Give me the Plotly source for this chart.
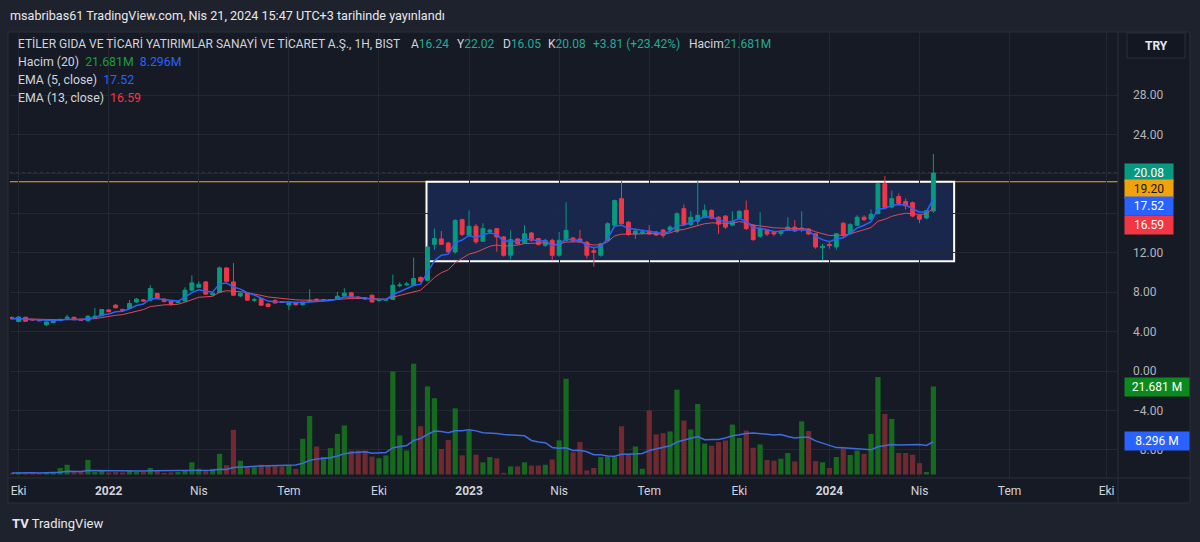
import pandas as pd
import plotly.graph_objects as go

# ---------------- data ----------------
start_date = "2021-09-27"
n_bars = 134

opens = [5.42,5.02,5.45,5.22,5.20,4.68,4.92,5.12,5.35,5.45,
         5.25,5.10,5.45,5.60,6.20,6.68,6.25,6.35,7.00,7.22,
         7.19,7.86,7.30,7.10,6.95,7.10,8.20,8.50,9.04,7.72,
         7.96,10.46,9.04,7.62,7.93,7.18,7.36,6.80,7.15,7.05,
         6.70,6.90,6.72,7.05,7.28,7.15,7.20,7.26,7.60,7.93,
         7.50,7.42,7.69,7.15,7.18,7.26,8.65,8.75,8.70,9.48,
         9.20,12.85,13.40,12.99,12.08,15.35,13.77,14.68,13.16,14.10,
         14.44,13.60,11.74,13.40,13.00,14.00,13.43,12.75,13.26,11.74,
         13.26,13.50,13.40,13.06,12.20,11.74,13.26,14.78,17.48,15.10,
         13.90,14.00,14.20,14.10,14.30,14.30,14.17,16.47,14.85,15.20,
         15.60,16.30,15.60,15.72,14.80,15.50,16.30,14.78,13.67,14.30,
         14.10,13.95,14.30,14.60,14.30,14.40,13.93,12.50,12.85,12.58,
         15.00,13.93,14.78,15.60,15.40,15.96,19.00,16.63,17.70,17.20,
         17.07,15.80,15.52,16.24]
closes = [5.30,5.48,5.05,5.18,5.10,4.98,5.10,5.24,5.45,5.20,
          5.15,5.56,5.55,6.24,6.02,6.42,6.15,6.85,7.29,7.10,
          8.37,7.36,7.05,6.85,7.05,8.20,8.94,8.80,7.80,7.90,
          10.46,9.10,7.69,7.90,7.19,7.24,6.68,6.55,6.90,6.95,
          7.00,6.72,7.00,7.15,7.20,7.24,7.22,7.59,7.90,7.52,
          7.35,7.32,7.00,7.20,7.25,8.70,8.72,8.82,9.38,9.10,
          12.58,13.43,12.85,12.08,15.28,13.86,14.68,13.10,14.44,14.30,
          13.60,11.74,13.33,12.92,13.93,13.26,12.85,13.26,11.74,13.26,
          14.27,13.20,13.10,11.74,12.05,12.90,14.94,17.30,14.94,13.86,
          14.20,14.10,13.90,13.80,13.76,14.60,15.96,14.85,15.60,15.80,
          16.30,15.50,14.90,14.60,15.20,16.20,14.44,13.33,14.40,13.90,
          13.90,14.20,14.60,14.20,14.50,13.90,12.58,12.65,12.72,13.93,
          13.76,14.85,15.60,15.35,15.90,19.00,16.60,17.48,17.00,16.75,
          15.72,15.40,16.27,20.08]
highs = [5.55,5.55,5.50,5.30,5.25,5.05,5.15,5.30,5.70,5.50,
         5.30,5.65,6.40,6.30,6.25,6.80,6.30,7.20,7.40,7.30,
         8.70,7.95,7.35,7.15,7.10,8.50,9.70,9.10,9.10,7.95,
         10.60,10.50,10.96,8.00,8.00,7.45,7.40,6.85,7.30,7.10,
         7.05,6.95,7.05,8.30,7.35,7.30,7.30,8.03,8.40,8.00,
         7.60,7.50,7.75,7.25,7.30,9.79,9.00,9.05,11.50,9.60,
         12.70,14.45,14.20,13.10,15.40,15.45,16.30,14.90,15.00,14.40,
         14.50,13.70,14.27,13.50,14.78,14.10,13.50,13.40,13.40,14.10,
         17.13,13.60,14.30,13.20,12.60,13.00,15.10,17.40,19.33,15.20,
         14.30,14.30,14.80,14.20,14.40,14.80,16.10,16.90,16.20,19.33,
         16.90,16.40,15.70,15.80,16.20,16.30,17.30,14.90,16.10,14.40,
         14.20,14.30,15.60,15.30,16.20,14.50,14.00,12.90,13.20,14.00,
         15.10,15.00,15.80,15.80,16.40,19.10,19.77,18.30,18.00,17.50,
         17.20,15.90,16.30,22.02]
lows = [5.25,4.95,5.00,5.12,5.05,4.55,4.85,5.05,5.30,5.15,
        5.10,5.05,5.40,5.55,5.95,6.35,6.10,6.30,6.90,7.00,
        7.10,7.30,6.95,6.60,6.90,7.05,8.10,8.45,7.75,7.65,
        7.90,9.05,7.60,7.50,7.15,7.00,6.60,6.50,6.85,6.90,
        6.20,6.65,6.65,7.00,7.10,7.10,7.12,7.20,7.55,7.45,
        7.30,7.25,6.95,7.05,7.10,7.20,8.50,8.60,8.65,9.00,
        9.10,12.30,12.80,11.90,11.90,13.70,13.60,12.90,13.10,13.90,
        12.10,11.60,11.30,12.80,12.90,13.10,12.70,12.60,11.23,11.60,
        13.10,13.10,13.00,11.40,10.60,11.60,13.10,14.60,14.85,13.70,
        13.40,13.85,13.80,13.70,13.50,14.20,14.00,14.80,14.70,14.70,
        15.50,15.40,13.90,14.40,14.70,15.30,14.30,13.20,13.50,13.70,
        13.70,13.70,14.20,14.10,14.10,13.80,12.40,11.23,12.40,12.30,
        13.50,13.80,14.70,15.20,15.30,15.90,16.50,16.50,16.90,16.40,
        15.60,15.00,15.40,16.05]
volumes_m = [0.4,0.5,0.4,0.4,0.3,0.4,0.6,1.6,2.4,0.6,
             0.6,3.6,0.6,0.9,0.5,0.6,0.5,1.0,0.6,0.6,
             1.6,1.0,0.4,0.5,0.6,0.9,3.0,1.4,0.9,1.4,
             5.1,2.3,11.0,3.4,2.0,1.8,2.4,2.3,2.3,2.0,
             2.3,1.4,8.8,14.4,6.9,4.3,6.5,10.0,12.1,5.9,
             5.9,5.9,4.4,4.0,4.7,25.4,9.6,5.9,27.3,11.9,
             21.7,18.8,6.3,8.5,16.3,4.7,10.8,4.9,3.0,4.3,
             4.0,0.4,2.0,2.0,3.0,2.2,2.2,2.4,3.7,8.4,
             23.6,5.5,8.0,1.0,1.6,4.3,4.4,4.4,11.9,5.1,
             6.9,1.4,15.8,9.9,10.2,10.6,20.9,13.3,11.1,17.4,
             7.6,7.1,8.0,8.4,12.3,9.0,10.8,6.6,7.4,3.6,
             3.4,3.9,5.3,3.2,13.1,10.7,3.3,3.0,1.6,4.3,
             6.5,4.8,5.9,5.1,10.0,24.0,14.9,13.7,5.3,5.3,
             4.9,2.8,0.6,21.681]

tick_dates = ["2021-10-04", "2022-01-03", "2022-04-04", "2022-07-04", "2022-10-03",
              "2023-01-02", "2023-04-03", "2023-07-03", "2023-10-02", "2024-01-01",
              "2024-04-01", "2024-07-01", "2024-10-07"]
tick_labels = ["Eki", "<b>2022</b>", "Nis", "Tem", "Eki", "<b>2023</b>", "Nis", "Tem",
               "Eki", "<b>2024</b>", "Nis", "Tem", "Eki"]
price_ticks = [-8, -4, 0, 4, 8, 12, 16, 20, 24, 28]
hidden_price_labels = [16, 20]     # covered by the price badges in the reference

level_line = 19.20          # horizontal drawing
box_start, box_end = "2022-11-20", "2024-05-06"
box_low, box_high = 11.13, 19.20

dates = pd.date_range(start_date, periods=n_bars, freq="7D")
close_s = pd.Series(closes)
ema5 = close_s.ewm(span=5, adjust=False).mean()
ema13 = close_s.ewm(span=13, adjust=False).mean()
vol_ma = pd.Series(volumes_m).rolling(20, min_periods=1).mean()

# ---------------- styling ----------------
W, H = 1200, 542
PL, PR, PT, PB = 10, 1118, 32, 478          # plot area in pixels
OUTER = "#1e222d"
INNER = "#161a25"
GRID = "#242833"
TXT = "#d1d4dc"
UP, DOWN = "#089981", "#f23645"
VUP, VDOWN = "#166a20", "#6e2a30"
FONT = "Roboto"

def px(x):
    return (x - PL) / (PR - PL)

def py(y):
    return (PB - y) / (PB - PT)

fig = go.Figure()

fig.add_trace(go.Bar(
    x=dates, y=volumes_m, yaxis="y2",
    marker=dict(color=[VUP if c >= o else VDOWN for o, c in zip(opens, closes)], line=dict(width=0)),
    hoverinfo="skip"))
fig.add_trace(go.Scatter(x=dates, y=vol_ma, yaxis="y2", mode="lines",
                         line=dict(color="#3d6be0", width=1.5), hoverinfo="skip"))
fig.add_trace(go.Candlestick(
    x=dates, open=opens, high=highs, low=lows, close=closes,
    increasing=dict(line=dict(color=UP, width=1), fillcolor=UP),
    decreasing=dict(line=dict(color=DOWN, width=1), fillcolor=DOWN),
    whiskerwidth=0, hoverinfo="skip"))
fig.add_trace(go.Scatter(x=dates, y=ema13, mode="lines",
                         line=dict(color="#e0485a", width=1), hoverinfo="skip"))
fig.add_trace(go.Scatter(x=dates, y=ema5, mode="lines",
                         line=dict(color="#2962ff", width=1.5), hoverinfo="skip"))

y_lo = -(PB - 371) / 9.857
y_hi = (371 - PT) / 9.857
v_per_px = 21.681 / (474.5 - 386.5)
v_lo = -(PB - 474.5) * v_per_px
v_hi = (474.5 - PT) * v_per_px

shapes = [
    dict(type="rect", xref="paper", yref="paper", x0=px(8), x1=px(1190), y0=py(503), y1=py(32),
         fillcolor=INNER, line=dict(color="#2a2e39", width=1), layer="below"),
    dict(type="line", xref="paper", yref="paper", x0=px(8), x1=px(1190), y0=0, y1=0,
         line=dict(color="#2a2e39", width=1)),
    dict(type="line", xref="paper", yref="paper", x0=1, x1=1, y0=py(503), y1=1,
         line=dict(color="#2a2e39", width=1)),
    dict(type="rect", xref="x", yref="y", x0=box_start, x1=box_end, y0=box_low, y1=box_high,
         fillcolor="rgba(41,98,255,0.18)", line=dict(color="#ffffff", width=2), layer="below"),
    dict(type="line", xref="paper", yref="y", x0=0, x1=1, y0=level_line, y1=level_line,
         line=dict(color="#f5a623", width=1), layer="below"),
    dict(type="line", xref="paper", yref="y", x0=0, x1=1, y0=closes[-1], y1=closes[-1],
         line=dict(color="#4d5260", width=1, dash="dot"), layer="below"),
    dict(type="rect", xref="paper", yref="paper", x0=px(1127), x1=px(1185), y0=py(58), y1=py(33),
         fillcolor="#131722", line=dict(color="#2a2e39", width=1)),
]

G = "#22ab94"

def ann(text, x, y, size=12, color=TXT, xanchor="left", **kw):
    return dict(text=text, xref="paper", yref="paper", x=px(x), y=py(y), xanchor=xanchor,
                yanchor="middle", showarrow=False, font=dict(family=FONT, size=size, color=color), **kw)

def g(s):
    return f"<span style='color:{G}'>{s}</span>"

annotations = [
    ann("msabribas61 TradingView.com, Nis 21, 2024 15:47 UTC+3 tarihinde yayınlandı", 8, 15, size=12.6, color="#e6e8ee"),
    ann("ETİLER GIDA VE TİCARİ YATIRIMLAR SANAYİ VE TİCARET A.Ş., 1H, BIST", 16, 44),
    ann("A" + g("16.24"), 409, 44),
    ann("Y" + g("22.02"), 455, 44),
    ann("D" + g("16.05"), 501, 44),
    ann("K" + g("20.08"), 546, 44),
    ann(g("+3.81 (+23.42%)"), 591, 44),
    ann("Hacim" + g("21.681M"), 687, 44),
    ann("Hacim (20)\u00a0\u00a0<span style='color:#1e9e3a'>21.681M</span>\u00a0\u00a0<span style='color:#2962ff'>8.296M</span>", 16, 62, size=12.3),
    ann("EMA (5, close)\u00a0\u00a0<span style='color:#2962ff'>17.52</span>", 16, 80, size=12.3),
    ann("EMA (13, close)\u00a0\u00a0<span style='color:#f23645'>16.59</span>", 16, 98, size=12.3),
    ann("<b>TRY</b>", 1156, 46, size=12, color="#e6e8ee", xanchor="center"),
    ann("<b>TV</b> TradingView", 10, 523, size=13, color="#e6e8ee"),
]

def badge(text, value, bg, fg, yref="y", yshift=0, width=44):
    return dict(text=text, xref="paper", yref=yref, x=px(1124), y=value, xanchor="left", yanchor="middle",
                showarrow=False, bgcolor=bg, font=dict(family=FONT, size=12, color=fg),
                width=width, height=14, borderpad=2, yshift=yshift)

annotations += [
    badge("20.08", 20.08, "#089981", "#ffffff"),
    badge("19.20", 19.20, "#f0a30a", "#131722", yshift=-7),
    badge("17.52", 17.52, "#2962ff", "#ffffff", yshift=-8),
    badge("16.59", 16.59, "#f23645", "#ffffff", yshift=-18),
    badge("21.681 M", 21.681, "#0c8a1e", "#ffffff", yref="y2", width=60),
    badge("8.296 M", 8.296, "#2962ff", "#ffffff", yref="y2", width=60),
]

price_text = ["" if v in hidden_price_labels else f"{v:.2f}".replace("-", "\u2212") for v in price_ticks]

fig.update_layout(
    width=W, height=H,
    margin=dict(l=PL, r=W - PR, t=PT, b=H - PB),
    paper_bgcolor=OUTER, plot_bgcolor=INNER,
    showlegend=False, bargap=0.25, boxgap=0.2,
    font=dict(family=FONT, color=TXT, size=12),
    shapes=shapes, annotations=annotations,
    xaxis=dict(type="date", range=["2021-09-25 07:00", "2024-10-18 12:00"],
               tickvals=tick_dates, ticktext=tick_labels, showgrid=True, gridcolor=GRID,
               zeroline=False, showline=False, ticks="", tickfont=dict(size=12, color=TXT),
               ticklabelstandoff=4, rangeslider=dict(visible=False), fixedrange=True),
    yaxis=dict(side="right", range=[y_lo, y_hi], tickvals=price_ticks, ticktext=price_text,
               showgrid=True, gridcolor=GRID, zeroline=False, showline=False, ticks="",
               ticklabelstandoff=14, tickfont=dict(size=12, color="#b2b5be"), fixedrange=True),
    yaxis2=dict(overlaying="y", range=[v_lo, v_hi], visible=False, showgrid=False, fixedrange=True),
)

fig.write_html("out.html", config={"displayModeBar": False, "staticPlot": True},
               post_script="document.body.style.margin='0';document.body.style.overflow='hidden';")
